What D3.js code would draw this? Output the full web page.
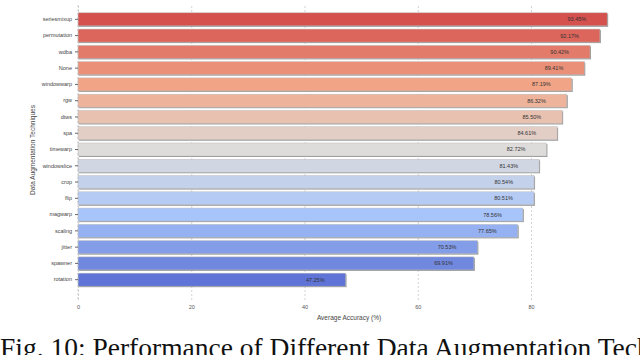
<!DOCTYPE html>
<html>
<head>
<meta charset="utf-8">
<script src="https://cdn.jsdelivr.net/npm/d3@7"></script>
<style>
  body { margin: 0; background: #fff; overflow: hidden; }
  svg text { font-family: "Liberation Sans", Arial, sans-serif; }
</style>
</head>
<body>
<div id="chart"></div>
<script>
var width = 640, height = 355;
var margin = {top: 10, right: 20, bottom: 55, left: 78};

// data
var techniques = ["seriesmixup", "permutation", "wdba", "None", "windowwarp", "rgw", "dtws", "spa",
  "timewarp", "windowslice", "crop", "flip", "magwarp", "scaling", "jitter", "spawner", "rotation"];
var accuracy = [93.45, 92.17, 90.42, 89.41, 87.19, 86.32, 85.50, 84.61,
  82.72, 81.43, 80.54, 80.51, 78.56, 77.65, 70.53, 69.91, 47.25];
var xTicks = [0, 20, 40, 60, 80];

var svg = d3.select("#chart")
  .append("svg")
  .attr("width", width)
  .attr("height", height);

var xScale = d3.scaleLinear()
  .domain([0, 80])
  .range([margin.left, 531]);

var yScale = d3.scaleBand()
  .domain(techniques)
  .range([12, 287])
  .paddingInner(0.2)
  .paddingOuter(0.05);

var color = d3.scaleLinear()
  .domain([0, 4, 8, 12, 16])
  .range(["#d4514e", "#f2a586", "#dedcdb", "#a8c5fb", "#5f74d6"])
  .interpolate(d3.interpolateRgb);

// grid
var xGrid = d3.axisBottom(xScale)
  .tickValues(xTicks)
  .tickSize(-(300 - 5))
  .tickFormat("");

svg.append("g")
  .attr("class", "grid")
  .attr("transform", "translate(0,300)")
  .call(xGrid)
  .call(g => g.select(".domain").remove())
  .selectAll("line")
  .style("stroke", "#c8c8c8")
  .style("stroke-dasharray", "2,2")
  .style("stroke-width", 0.8);

// x tick labels
svg.append("g")
  .attr("transform", "translate(0,300)")
  .call(d3.axisBottom(xScale).tickValues(xTicks).tickSize(0).tickPadding(5))
  .call(g => g.select(".domain").remove())
  .selectAll("text")
  .style("font-size", "5.5px")
  .style("fill", "#555");

// bars
var bars = svg.append("g").attr("class", "bars");

bars.selectAll(".shadow")
  .data(techniques)
  .enter()
  .append("rect")
  .attr("class", "shadow")
  .attr("x", xScale(0) + 1)
  .attr("y", d => yScale(d) + 1)
  .attr("width", (d, i) => xScale(accuracy[i]) - xScale(0))
  .attr("height", yScale.bandwidth())
  .style("fill", "#999");

bars.selectAll(".bar")
  .data(techniques)
  .enter()
  .append("rect")
  .attr("class", "bar")
  .attr("x", xScale(0))
  .attr("y", d => yScale(d))
  .attr("width", (d, i) => xScale(accuracy[i]) - xScale(0))
  .attr("height", yScale.bandwidth())
  .style("fill", (d, i) => color(i))
  .style("stroke", "#bbb")
  .style("stroke-width", 0.5);

bars.selectAll(".val")
  .data(techniques)
  .enter()
  .append("text")
  .attr("class", "val")
  .attr("x", (d, i) => xScale(accuracy[i]) - 21)
  .attr("y", d => yScale(d) + yScale.bandwidth() / 2)
  .attr("dy", "0.35em")
  .style("text-anchor", "end")
  .style("font-size", "5.5px")
  .style("fill", "#333")
  .text((d, i) => accuracy[i].toFixed(2) + "%");

// left spine (dashed)
svg.append("line")
  .attr("x1", xScale(0)).attr("x2", xScale(0))
  .attr("y1", 5).attr("y2", 300)
  .style("stroke", "#bbb")
  .style("stroke-dasharray", "2,2")
  .style("stroke-width", 0.8);

// y axis
svg.append("g")
  .attr("transform", `translate(${xScale(0)},0)`)
  .call(d3.axisLeft(yScale).tickSize(3).tickPadding(3))
  .call(g => g.select(".domain").remove())
  .call(g => g.selectAll("line").style("stroke", "#666"))
  .selectAll("text")
  .style("font-size", "5.5px")
  .style("fill", "#444");

// axis titles
svg.append("text")
  .attr("x", 349)
  .attr("y", 320)
  .style("text-anchor", "middle")
  .style("font-size", "6.5px")
  .style("fill", "#444")
  .text("Average Accuracy (%)");

svg.append("text")
  .attr("transform", "translate(35,150) rotate(-90)")
  .style("text-anchor", "middle")
  .style("font-size", "6.5px")
  .style("fill", "#444")
  .text("Data Augmentation Techniques");

// caption (runs off the right edge, as in the source figure)
svg.append("text")
  .attr("x", 0)
  .attr("y", 357)
  .style("font-family", "'Liberation Serif', 'Times New Roman', serif")
  .style("font-size", "27.5px")
  .style("fill", "#111")
  .text("Fig. 10: Performance of Different Data Augmentation Techniques");
</script>
</body>
</html>
